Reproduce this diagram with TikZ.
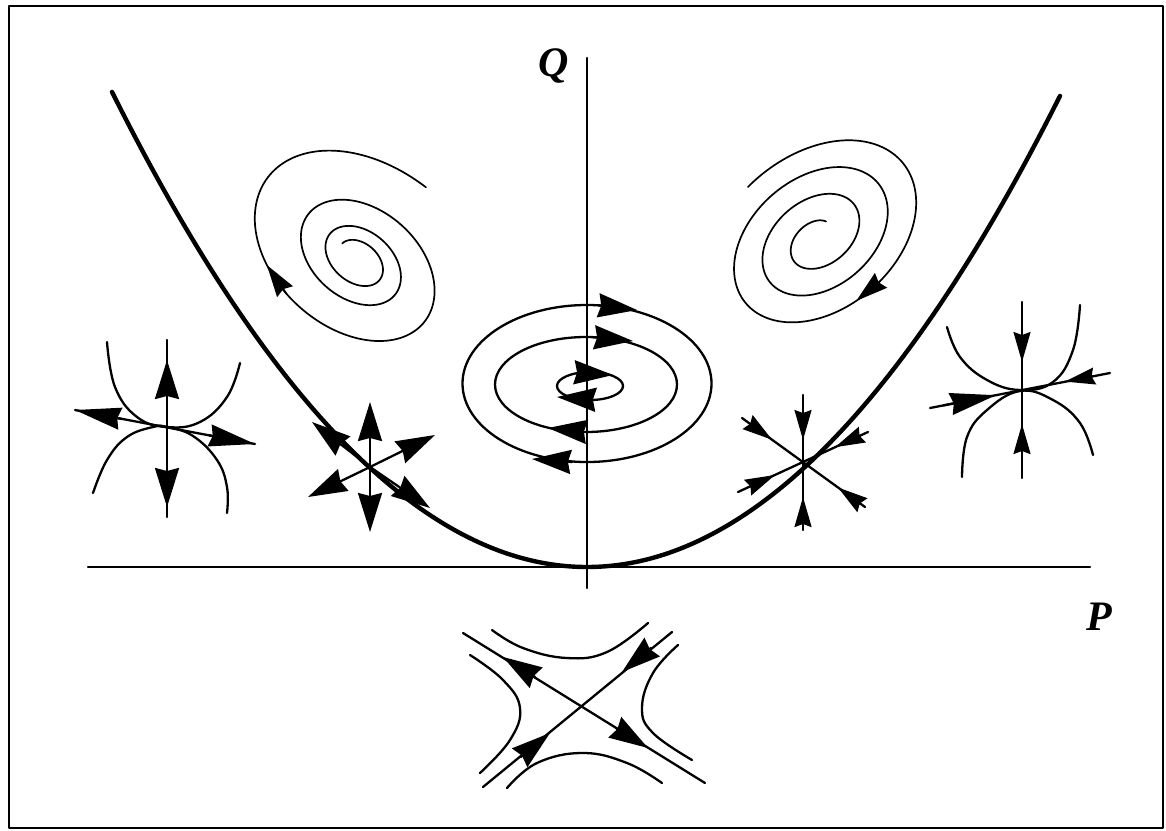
\documentclass[tikz,border=0pt]{standalone}
\usepackage{fontspec}
\setmainfont{Liberation Serif}
\usetikzlibrary{arrows.meta}
\newcommand{\spLx}[1]{358+(5+18*exp(0.1*(#1-3.3)))*(0.766*cos(#1 r)-0.45*sin(#1 r))}
\newcommand{\spLy}[1]{260+(5+18*exp(0.1*(#1-3.3)))*(0.643*cos(#1 r)+0.536*sin(#1 r))}
\newcommand{\spRx}[1]{818+(122-5.1*(#1-4.54))*(0.766*cos(#1 r)+0.45*sin(#1 r))}
\newcommand{\spRy}[1]{238+(122-5.1*(#1-4.54))*(-0.643*cos(#1 r)+0.536*sin(#1 r))}
\begin{document}
\begin{tikzpicture}[x=1pt,y=-1pt,line cap=round,line join=round,
  fline/.style={line width=2.3pt},
  spir/.style={line width=1.7pt},
  axisline/.style={line width=2.2pt},
  parab/.style={line width=4.4pt},
  boxline/.style={line width=2.6pt},
  arrbig/.style={line width=2.3pt,-{Stealth[length=39pt,width=24pt,inset=3pt]}},
  arrlong/.style={line width=2.3pt,-{Stealth[length=46pt,width=22pt,inset=3pt]}},
  arrsm/.style={line width=2pt,-{Stealth[length=30pt,width=17pt,inset=3pt]}},
  arrsp/.style={line width=1.7pt,-{Stealth[length=32pt,width=19pt,inset=3pt]}},
  lab/.style={font=\fontsize{42}{48}\selectfont\bfseries\itshape, inner sep=0pt, anchor=base west}]
\useasboundingbox (0,0) rectangle (1166,830);
\draw[boxline] (9,6) rectangle (1163,828);

% axes and labels
\draw[axisline] (88,567) -- (1090,567);
\draw[axisline] (587,58) -- (587,588);
\node[lab] (Q) at (538,76) {Q};
\node[lab] (P) at (1086,630) {P};

% parabola
\draw[parab] plot[domain=-475:473, samples=200, variable=\x] ({587+\x},{567-0.0021*(\x)*(\x)});

% upper-left spiral (unstable focus)
\draw[spir] plot[domain=3.3:23.6, samples=500, variable=\t] ({\spLx{\t}},{\spLy{\t}});
\coordinate (la1) at ({\spLx{20.73}},{\spLy{20.73}});
\coordinate (la2) at ({\spLx{21.06}},{\spLy{21.06}});
\draw[arrsp] (la1) -- (la2);

% upper-right spiral (stable focus)
\draw[spir] plot[domain=4.54:24.57, samples=500, variable=\t] ({\spRx{\t}},{\spRy{\t}});
\coordinate (ra1) at ({\spRx{7.67}},{\spRy{7.67}});
\coordinate (ra2) at ({\spRx{7.96}},{\spRy{7.96}});
\draw[arrsp] (ra1) -- (ra2);

% centre
\draw[fline] (587,383.5) ellipse [x radius=124.5pt, y radius=78.5pt];
\draw[fline] (586,384.5) ellipse [x radius=91pt, y radius=47.5pt];
\draw[fline] (590,386) ellipse [x radius=33pt, y radius=14pt];
\draw[arrbig] (598,305.3) -- (637,310);
\draw[arrbig] (593,337.2) -- (633,341);
\draw[arrbig] (580,372.7) -- (613,375);
\draw[arrbig] (592,399.5) -- (557,397);
\draw[arrbig] (583,431.5) -- (548,428);
\draw[arrbig] (572,462) -- (532,459);

% left: unstable node with curves
\coordinate (ln) at (167,427);
\draw[fline] (167,340) -- (167,517);
\draw[fline] (75,410) -- (255,444);
\draw[fline] plot[smooth,tension=0.7] coordinates {(107,342) (115,387) (137,417) (167,427) (200,422) (227,397) (240,363)};
\draw[fline] plot[smooth,tension=0.7] coordinates {(93,493) (107,460) (127,437) (153,427) (167,427) (193,436) (217,460) (227,487) (227,513)};
\draw[arrbig] (167,398) -- (167,360);
\draw[arrbig] (167,465) -- (167,507);
\draw[arrlong] (122,419) -- (75,410);
\draw[arrlong] (209,435.3) -- (255,444);

% source star
\coordinate (sn) at (370,467);
\draw[arrbig] (sn) -- (370,402);
\draw[arrbig] (sn) -- (370,532);
\draw[arrbig] (sn) -- (312,422);
\draw[arrbig] (sn) -- (430,508);
\draw[arrbig] (sn) -- (435,435);
\draw[arrbig] (sn) -- (308,497);

% sink star
\coordinate (kn) at (803,463);
\draw[fline] (803,395) -- (803,530);
\draw[fline] (742,418) -- (865,507);
\draw[fline] (738,492) -- (868,432);
\draw[arrsm] (803,407) -- (803,440);
\draw[arrsm] (803,527) -- (803,497);
\draw[arrsm] (749.3,423.3) -- (772,439.7);
\draw[arrsm] (860.7,504) -- (838,487.5);
\draw[arrsm] (749.6,486.7) -- (775,475);
\draw[arrsm] (860.4,435.5) -- (835,447.2);

% right: stable node with curves
\coordinate (rn) at (1022,390);
\draw[fline] (1022,302) -- (1022,478);
\draw[fline] (930,408) -- (1110,373);
\draw[fline] plot[smooth,tension=0.7] coordinates {(947,327) (960,357) (987,380) (1020,390) (1053,382) (1073,350) (1080,305)};
\draw[fline] plot[smooth,tension=0.7] coordinates {(962,477) (967,437) (987,410) (1020,391) (1053,400) (1080,423) (1093,455)};
\draw[arrsm] (1022,330) -- (1022,362);
\draw[arrsm] (1022,452) -- (1022,424);
\draw[arrlong] (944,405.3) -- (996,395.2);
\draw[arrsm] (1093,376.3) -- (1065,381.6);

% saddle
\coordinate (sd) at (582,706);
\draw[fline] (463,633) -- (705,783);
\draw[fline] (483,787) -- (672,632);
\draw[fline] plot[smooth,tension=0.7] coordinates {(492,630) (523,648) (567,658) (607,652) (648,623)};
\draw[fline] plot[smooth,tension=0.7] coordinates {(507,788) (537,763) (583,753) (627,763) (662,783)};
\draw[fline] plot[smooth,tension=0.7] coordinates {(470,655) (503,680) (520,708) (510,740) (480,773)};
\draw[fline] plot[smooth,tension=0.7] coordinates {(678,645) (653,673) (642,708) (653,733) (692,760)};
\draw[arrbig] (535,677) -- (503,657);
\draw[arrbig] (616,728) -- (648,748);
\draw[arrbig] (520.6,757) -- (550,733);
\draw[arrbig] (651,648) -- (622,672);
\end{tikzpicture}
\end{document}
